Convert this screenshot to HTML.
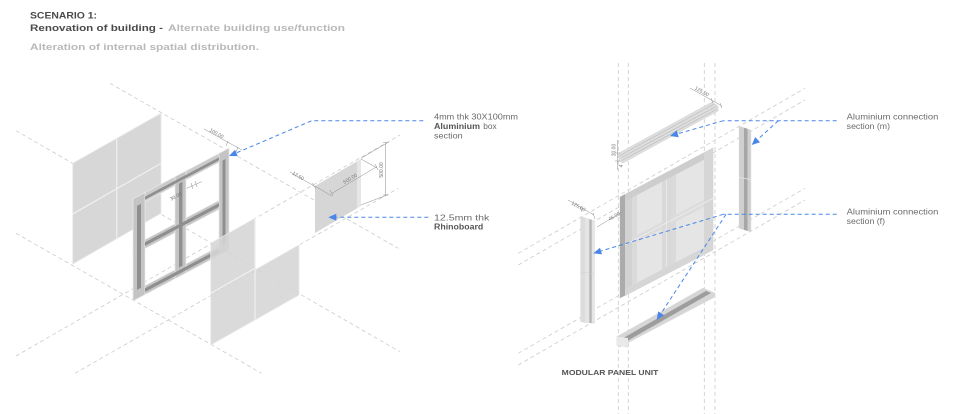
<!DOCTYPE html>
<html><head><meta charset="utf-8"><style>
html,body{margin:0;padding:0;background:#fff;}
svg{display:block;}
text{font-family:"Liberation Sans",sans-serif;}
</style></head><body>
<svg width="960" height="414" viewBox="0 0 960 414" xmlns="http://www.w3.org/2000/svg">
<rect width="960" height="414" fill="#fff"/>

<!-- Titles -->
<text x="30" y="18.5" font-size="9.5" font-weight="bold" fill="#4a4a4a" textLength="67" lengthAdjust="spacingAndGlyphs">SCENARIO 1:</text>
<text x="30" y="31" font-size="9.5" font-weight="bold" fill="#4a4a4a" textLength="133" lengthAdjust="spacingAndGlyphs">Renovation of building -</text>
<text x="168" y="31" font-size="9.5" font-weight="bold" fill="#b9b9b9" textLength="177" lengthAdjust="spacingAndGlyphs">Alternate building use/function</text>
<text x="30" y="50" font-size="9.5" font-weight="bold" fill="#b9b9b9" textLength="229" lengthAdjust="spacingAndGlyphs">Alteration of internal spatial distribution.</text>

<!-- Grey construction lines (left) -->
<g stroke="#cbcbcb" stroke-width="0.8" stroke-dasharray="4 3" fill="none">
  <line x1="110" y1="83.3" x2="398.3" y2="248.3"/>
  <line x1="16" y1="130.7" x2="400" y2="351.7"/>
  <line x1="16" y1="233.3" x2="261.7" y2="373.3"/>
  <line x1="16" y1="356" x2="400" y2="135"/>
  <line x1="75" y1="373.3" x2="398.3" y2="188.3"/>
</g>
<!-- Grey construction lines (right) -->
<g stroke="#cbcbcb" stroke-width="0.8" stroke-dasharray="4 3" fill="none">
  <line x1="618.3" y1="63" x2="618.3" y2="414"/>
  <line x1="628.3" y1="63" x2="628.3" y2="414"/>
  <line x1="704.3" y1="63" x2="704.3" y2="414"/>
  <line x1="715" y1="63" x2="715" y2="414"/>
  <line x1="518.3" y1="253.3" x2="805" y2="88.3"/>
  <line x1="518.3" y1="265" x2="805" y2="100"/>
  <line x1="518.3" y1="353.3" x2="805" y2="188.3"/>
  <line x1="518.3" y1="365" x2="805" y2="200"/>
</g>

<!-- Back panel (left) -->
<polygon points="72.7,163.3 161,113.3 161,213.3 72.7,264" fill="#d7d7d7" stroke="#e9e9e9" stroke-width="0.8"/>
<line x1="116.7" y1="138.4" x2="116.7" y2="239.1" stroke="#eeeeee" stroke-width="1.3"/>
<line x1="72.7" y1="214" x2="161" y2="163.3" stroke="#eeeeee" stroke-width="1.3"/>

<!-- Frame (left) -->
<g stroke="#ececec" stroke-width="0.7">
  <polygon points="133,199 229,148.1 229,157.1 133,208" fill="#cbcbcb"/>
  <polygon points="133,292 229,241.1 229,250.1 133,301" fill="#c6c6c6"/>
  <polygon points="133,246 229,195.1 229,204.1 133,255" fill="#c6c6c6"/>
  <polygon points="133,199 145,192.6 145,294.6 133,301" fill="#c4c4c4"/>
  <polygon points="219,153.4 229,148.1 229,250.1 219,255.4" fill="#c4c4c4"/>
  <polygon points="175,176.7 186,170.9 186,272.9 175,278.7" fill="#c4c4c4"/>
</g>
<g fill="#8f8f8f">
  <polygon points="145,196.6 219,157.4 219,160.4 145,199.6"/>
  <polygon points="145,242.3 219,203.1 219,206.7 145,245.9"/>
  <polygon points="145,288.3 219,249.1 219,252.7 145,291.9"/>
  <polygon points="137,205.9 141,203.8 141,287.8 137,289.9"/>
  <polygon points="222.5,160.6 225.5,159 225.5,243 222.5,244.6"/>
  <polygon points="179,183.6 182.5,181.8 182.5,265.8 179,267.6"/>
</g>
<!-- dims on frame -->
<g stroke="#8a8a8a" stroke-width="0.5" fill="none">
  <line x1="204" y1="129" x2="242" y2="150"/>
  <line x1="228" y1="141" x2="226" y2="146"/>
  <line x1="238" y1="147" x2="236" y2="152"/>
  <line x1="186.7" y1="188.3" x2="201.7" y2="181.7"/>
  <line x1="191" y1="183" x2="193" y2="189"/>
  <line x1="195" y1="181" x2="197" y2="187"/>
</g>
<text x="216.7" y="135" font-size="5" fill="#777" text-anchor="middle" transform="rotate(30 216.7 133.3)">100.00</text>
<text x="176" y="198" font-size="5" fill="#777" text-anchor="middle" transform="rotate(-28 176 196.7)">30.00</text>

<!-- Front panel (L shape) -->
<polygon points="210.7,243.3 255,218.3 255,270 299,245 299,295 210.7,345" fill="#d5d5d5" fill-opacity="0.88" stroke="#e9e9e9" stroke-width="0.8"/>
<line x1="255" y1="218.3" x2="255" y2="320" stroke="#eeeeee" stroke-width="1.3"/>
<line x1="210.7" y1="293.3" x2="255" y2="268.2" stroke="#eeeeee" stroke-width="1.3"/>

<!-- Rhinoboard piece -->
<polygon points="315,186 361,159 361,206 315,233" fill="#d6d6d6"/>
<polygon points="357,161.4 361,159 361,206 357,208.4" fill="#e6e6e6"/>
<g stroke="#8a8a8a" stroke-width="0.5" fill="none">
  <line x1="290" y1="172" x2="315" y2="186.5"/>
  <line x1="312" y1="183" x2="316" y2="189"/>
  <line x1="315" y1="186" x2="331.7" y2="196"/>
  <line x1="361" y1="159" x2="377" y2="168"/>
  <line x1="331.7" y1="193.5" x2="376.7" y2="166.7"/>
  <line x1="330" y1="190" x2="333" y2="196"/>
  <line x1="375" y1="164" x2="378" y2="170"/>
  <line x1="361" y1="158.3" x2="387" y2="143"/>
  <line x1="361" y1="205" x2="387" y2="195"/>
  <line x1="385.7" y1="142.7" x2="385.7" y2="195"/>
  <line x1="383" y1="142.7" x2="388.5" y2="142.7"/>
  <line x1="383" y1="195" x2="388.5" y2="195"/>
</g>
<text x="298" y="177.5" font-size="5" fill="#777" text-anchor="middle" transform="rotate(30 298 176)">12.50</text>
<text x="351" y="180" font-size="5" fill="#777" text-anchor="middle" transform="rotate(-31 351 180)">500.00</text>
<text x="383" y="170" font-size="5" fill="#777" text-anchor="middle" transform="rotate(-90 383 170)">500.00</text>

<!-- Left labels -->
<text x="434" y="119.5" font-size="8" fill="#6a6a6a" textLength="84" lengthAdjust="spacingAndGlyphs">4mm thk 30X100mm</text>
<text x="434" y="129" font-size="8" font-weight="bold" fill="#555" textLength="46" lengthAdjust="spacingAndGlyphs">Aluminium</text>
<text x="483.3" y="129" font-size="8" fill="#6a6a6a" textLength="13.4" lengthAdjust="spacingAndGlyphs">box</text>
<text x="434" y="138.3" font-size="8" fill="#6a6a6a" textLength="28.7" lengthAdjust="spacingAndGlyphs">section</text>
<text x="434" y="220.7" font-size="8" fill="#6a6a6a" textLength="55.3" lengthAdjust="spacingAndGlyphs">12.5mm thk</text>
<text x="434" y="229.5" font-size="8" font-weight="bold" fill="#555" textLength="49.3" lengthAdjust="spacingAndGlyphs">Rhinoboard</text>

<!-- Right panel unit -->
<polygon points="620,197 713,148 713,250 620,298" fill="#dcdcdc" stroke="#d0d0d0" stroke-width="0.6"/>
<polygon points="620,197 625,194.4 625,295.4 620,298" fill="#ababab"/>
<polygon points="625,194.4 632,190.7 632,291.7 625,295.4" fill="#d2d2d2"/>
<polygon points="625,194.4 713,148 713,155 625,201.4" fill="#cdcdcd"/>
<polygon points="704,152.7 713,148 713,250 704,254.7" fill="#d6d6d6"/>
<polygon points="625,289 713,243 713,250 625,296" fill="#d6d6d6"/>
<g fill="#e5e5e5">
  <polygon points="632,197.7 662,181.9 662,222 632,237.8"/>
  <polygon points="671,177.2 704,159.8 704,199.9 671,217.3"/>
  <polygon points="632,244.8 662,229 662,269.5 632,285.3"/>
  <polygon points="671,224.3 704,206.9 704,247.4 671,264.8"/>
</g>
<g fill="#dadada">
  <polygon points="632,197.7 637,195.1 637,235.2 632,237.8"/>
  <polygon points="671,177.2 676,174.6 676,214.7 671,217.3"/>
  <polygon points="632,244.8 637,242.2 637,282.7 632,285.3"/>
  <polygon points="671,224.3 676,221.7 676,262.2 671,264.8"/>
</g>
<polygon points="662,181.9 671,177.2 671,264.8 662,269.5" fill="#d9d9d9"/>
<line x1="666.5" y1="179.5" x2="666.5" y2="267" stroke="#ececec" stroke-width="0.8"/>
<line x1="625" y1="244.8" x2="713" y2="198.4" stroke="#eeeeee" stroke-width="0.8"/>

<!-- Top connection bar (m) -->
<polygon points="619,153 712,102 718,106 718,111 623,163 619,161" fill="#dedede" stroke="#d0d0d0" stroke-width="0.5"/>
<g stroke="#bdbdbd" stroke-width="0.7">
  <line x1="620" y1="155.5" x2="714" y2="104"/>
  <line x1="621" y1="158" x2="716" y2="106.5"/>
  <line x1="622" y1="160.5" x2="717" y2="109"/>
</g>
<g stroke="#8a8a8a" stroke-width="0.5" fill="none">
  <line x1="690" y1="88" x2="722" y2="106"/>
  <line x1="711" y1="98" x2="713" y2="103"/>
  <line x1="720" y1="103" x2="722" y2="108"/>
  <line x1="617.5" y1="140" x2="617.5" y2="170"/>
  <line x1="615" y1="153" x2="620" y2="153"/>
  <line x1="615" y1="161" x2="620" y2="161"/>
</g>
<text x="701.7" y="93" font-size="5" fill="#777" text-anchor="middle" transform="rotate(30 701.7 91.7)">125.00</text>
<text x="615.5" y="150" font-size="5" fill="#777" text-anchor="middle" transform="rotate(-90 615.5 150)">30.00</text>
<text x="621" y="168" font-size="5" fill="#777" text-anchor="middle" transform="rotate(-90 621 166)">4</text>

<!-- Right vertical bar (m) -->
<polygon points="739,126 751,130 751,232 739,228.3" fill="#cfcfcf" stroke="#e0e0e0" stroke-width="0.5"/>
<polygon points="744,127.7 747.5,128.8 747.5,230.8 744,229.9" fill="#a6a6a6"/>
<line x1="739" y1="177.5" x2="751" y2="179.5" stroke="#e6e6e6" stroke-width="0.8"/>

<!-- Left vertical bar (f) -->
<polygon points="580.7,216.7 594.3,220.7 594.3,323.3 580.7,321.7" fill="#e5e5e5" stroke="#d2d2d2" stroke-width="0.5"/>
<polygon points="580.7,216.7 585,218 585,322.2 580.7,321.7" fill="#dcdcdc"/>
<polygon points="589.3,219.2 591.7,219.9 591.7,323 589.3,322.7" fill="#b5b5b5"/>
<line x1="580.7" y1="272" x2="594.3" y2="274" stroke="#d0d0d0" stroke-width="0.6"/>
<g stroke="#8a8a8a" stroke-width="0.5" fill="none">
  <line x1="568" y1="200" x2="594" y2="215"/>
  <line x1="580" y1="206" x2="582" y2="212"/>
  <line x1="593" y1="213" x2="595" y2="219"/>
  <line x1="597" y1="227" x2="622" y2="212"/>
</g>
<text x="578.3" y="208" font-size="5" fill="#777" text-anchor="middle" transform="rotate(30 578.3 206.7)">125.00</text>
<text x="614" y="218" font-size="5" fill="#777" text-anchor="middle" transform="rotate(-30 614 216)">45.00</text>

<!-- Bottom bar (f) -->
<polygon points="616.7,336.7 703,288 715,293 715,297 620,347 616.7,345" fill="#d6d6d6" stroke="#e2e2e2" stroke-width="0.5"/>
<polygon points="624,337.5 706,291 711,293 628,340.5" fill="#9d9d9d"/>
<polygon points="616.7,336.7 628,338 628,348 616.7,345" fill="#e9e9e9"/>

<!-- MODULAR PANEL UNIT -->
<text x="561.7" y="375" font-size="7.5" font-weight="bold" fill="#555" textLength="96.7" lengthAdjust="spacingAndGlyphs">MODULAR PANEL UNIT</text>

<!-- Right labels -->
<text x="846.7" y="119.5" font-size="8" fill="#6a6a6a" textLength="91.6" lengthAdjust="spacingAndGlyphs">Aluminium connection</text>
<text x="846.7" y="128.8" font-size="8" fill="#6a6a6a" textLength="43.3" lengthAdjust="spacingAndGlyphs">section (m)</text>
<text x="846.7" y="214.5" font-size="8" fill="#6a6a6a" textLength="91.6" lengthAdjust="spacingAndGlyphs">Aluminium connection</text>
<text x="846.7" y="223.8" font-size="8" fill="#6a6a6a" textLength="38.3" lengthAdjust="spacingAndGlyphs">section (f)</text>

<!-- Blue leaders -->
<g stroke="#4a86e8" stroke-width="1" stroke-dasharray="4 3" fill="none">
  <polyline points="423.3,120.7 311.7,120.7 236.4,152.9"/>
  <line x1="428.3" y1="217.3" x2="336.3" y2="217.3"/>
  <line x1="836.7" y1="120.7" x2="723.3" y2="120.7"/>
  <line x1="723.3" y1="120.7" x2="677.7" y2="133.8"/>
  <line x1="778.3" y1="120.7" x2="757.6" y2="139.6"/>
  <line x1="836.7" y1="214.3" x2="723.3" y2="214.3"/>
  <line x1="723.3" y1="214.3" x2="601" y2="251"/>
  <line x1="726" y1="214.3" x2="661.1" y2="313.3"/>
</g>
<g fill="#4a86e8">
  <polygon points="229,156 237.7,156.1 235,149.7"/>
  <polygon points="328.3,217.3 336.3,213.8 336.3,220.8"/>
  <polygon points="670,136 678.7,137.2 676.7,130.4"/>
  <polygon points="751.7,145 760,142.2 755.2,137"/>
  <polygon points="593.3,253.3 602,254.4 600,247.7"/>
  <polygon points="656.7,320 664,315.2 658.2,311.4"/>
</g>
</svg>
</body></html>
